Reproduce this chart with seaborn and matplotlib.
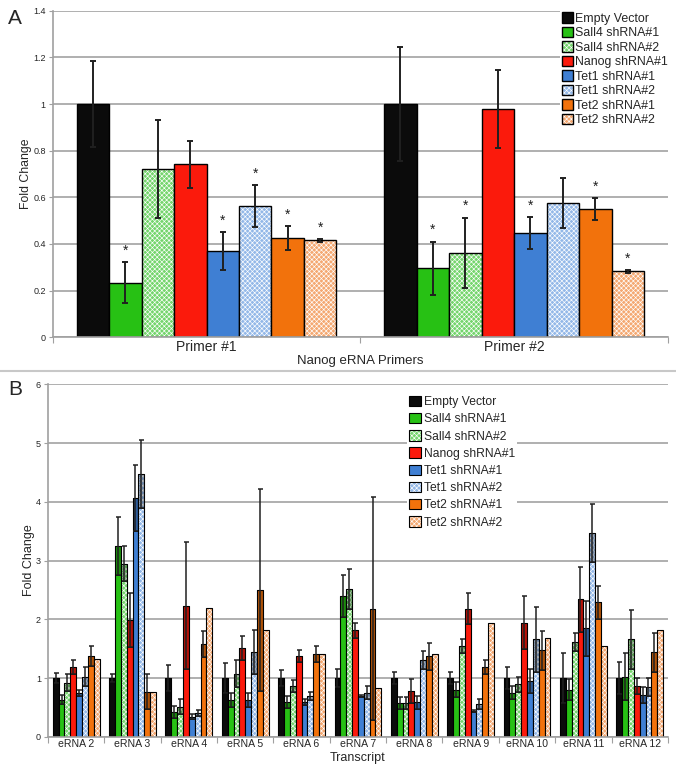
import numpy as np
import pandas as pd
import seaborn as sns
import matplotlib.pyplot as plt
import matplotlib.colors as mcolors
from matplotlib.lines import Line2D
from matplotlib.ticker import FuncFormatter

conditions = ['Empty Vector', 'Sall4 shRNA#1', 'Sall4 shRNA#2', 'Nanog shRNA#1',
              'Tet1 shRNA#1', 'Tet1 shRNA#2', 'Tet2 shRNA#1', 'Tet2 shRNA#2']
colors = ['#0b0b0b', '#27c114', '#74d56c', '#fb1a0c', '#3f7fd3', '#93b8e8', '#f2720c', '#f4a871']
hatched = [False, False, True, False, False, True, False, True]

# panel A
primers = ['Primer #1', 'Primer #2']
primer_mean = [[1.0, 1.0], [0.234, 0.295], [0.723, 0.362], [0.742, 0.978],
               [0.370, 0.447], [0.562, 0.576], [0.425, 0.549], [0.415, 0.282]]
primer_err = [[0.185, 0.245], [0.088, 0.115], [0.21, 0.15], [0.10, 0.168],
              [0.08, 0.068], [0.09, 0.107], [0.05, 0.048], [0.006, 0.006]]
primer_star = [[0, 0], [1, 1], [0, 1], [0, 0], [1, 1], [1, 0], [1, 1], [1, 1]]

# panel B
transcripts = ['eRNA 2', 'eRNA 3', 'eRNA 4', 'eRNA 5', 'eRNA 6', 'eRNA 7',
               'eRNA 8', 'eRNA 9', 'eRNA 10', 'eRNA 11', 'eRNA 12']
erna_mean = [
    [1.0, 1.0, 1.0, 1.0, 1.0, 1.0, 1.0, 1.0, 1.0, 1.0, 1.0],
    [0.63, 3.25, 0.42, 0.63, 0.59, 2.40, 0.58, 0.80, 0.75, 0.80, 1.02],
    [0.92, 2.95, 0.51, 1.07, 0.87, 2.51, 0.58, 1.54, 0.89, 1.61, 1.66],
    [1.19, 1.99, 2.23, 1.51, 1.37, 1.81, 0.78, 2.18, 1.94, 2.34, 0.86],
    [0.75, 4.07, 0.34, 0.63, 0.59, 0.69, 0.59, 0.44, 0.95, 1.85, 0.71],
    [1.02, 4.47, 0.41, 1.44, 0.69, 0.75, 1.31, 0.56, 1.66, 3.47, 0.85],
    [1.37, 0.77, 1.58, 2.50, 1.41, 2.18, 1.37, 1.19, 1.47, 2.29, 1.44],
    [1.32, 0.77, 2.19, 1.82, 1.41, 0.83, 1.41, 1.94, 1.69, 1.55, 1.82],
]
erna_err = [
    [0.08, 0.07, 0.22, 0.25, 0.13, 0.15, 0.10, 0.10, 0.19, 0.42, 0.28],
    [0.08, 0.50, 0.10, 0.12, 0.10, 0.36, 0.10, 0.13, 0.11, 0.18, 0.40],
    [0.14, 0.30, 0.13, 0.23, 0.10, 0.34, 0.10, 0.12, 0.12, 0.15, 0.50],
    [0.12, 0.46, 1.08, 0.20, 0.10, 0.12, 0.20, 0.26, 0.45, 0.55, 0.14],
    [0.05, 0.56, 0.04, 0.12, 0.05, 0.02, 0.11, 0.02, 0.20, 0.47, 0.13],
    [0.16, 0.58, 0.05, 0.38, 0.07, 0.11, 0.15, 0.08, 0.55, 0.50, 0.15],
    [0.17, 0.30, 0.22, 1.72, 0.14, 1.90, 0.23, 0.12, 0.33, 0.28, 0.33],
    [0.0, 0.0, 0.0, 0.0, 0.0, 0.0, 0.0, 0.0, 0.0, 0.0, 0.0],
]

sns.set_theme(style='white')
plt.rcParams['font.family'] = ['Liberation Sans', 'DejaVu Sans']
plt.rcParams['hatch.linewidth'] = 0.45
white = mcolors.to_rgba('white')


def draw_bars(ax, cats, means, errs, width, lw, capsize, elw, shade=False, stars=None, star_gap=0.02):
    rows = []
    for c, m in zip(conditions, means):
        for cat, v in zip(cats, m):
            rows.append({'group': cat, 'condition': c, 'value': v})
    df = pd.DataFrame(rows)

    sns.barplot(data=df, x='group', y='value', hue='condition', order=cats,
                hue_order=conditions, palette=colors, saturation=1, errorbar=None,
                width=width, edgecolor='black', linewidth=lw, legend=False, ax=ax)

    bar_conts = list(ax.containers)
    handles = []
    for i, cont in enumerate(bar_conts):
        bars = sorted(cont.patches, key=lambda p: p.get_x())
        xs = np.array([p.get_x() + p.get_width() / 2 for p in bars])
        bw = bars[0].get_width()
        m = np.array(means[i])
        e = np.array(errs[i])
        if hatched[i]:
            for p in bars:
                p.set_hatch('xxxxxxx')
                p._hatch_color = white
        handles.append(bars[0])
        if shade:
            ax.bar(xs, e, bottom=m - e, width=bw, color=(0, 0, 0, 0.28),
                   edgecolor='black', linewidth=0.6, zorder=2)
        has_err = e > 0
        ax.errorbar(xs[has_err], m[has_err], yerr=e[has_err], fmt='none',
                    ecolor='#202020', elinewidth=elw, capsize=capsize,
                    capthick=elw, zorder=3)
        if stars is not None:
            for x, v, s, st in zip(xs, m, e, stars[i]):
                if st:
                    ax.text(x, v + s + star_gap, '*', ha='center', va='bottom',
                            fontsize=10, color='#202020')

    ax.set_xticks(np.arange(len(cats) + 1) - 0.5, minor=True)
    ax.tick_params(axis='x', which='major', length=0, pad=2)
    ax.tick_params(axis='x', which='minor', length=4, width=0.8, color='#a0a0a0', bottom=True)
    ax.tick_params(axis='y', length=3, width=0.8, color='#a0a0a0', left=True, pad=2)
    ax.set_xlim(-0.5, len(cats) - 0.5)
    ax.yaxis.grid(True, color='#a9a9a9', linewidth=1.3)
    ax.set_axisbelow(True)
    for s in ['top', 'right']:
        ax.spines[s].set_visible(False)
    for s in ['left', 'bottom']:
        ax.spines[s].set_color('#a0a0a0')
        ax.spines[s].set_linewidth(1.2)
    ax.yaxis.set_major_formatter(FuncFormatter(lambda v, p: f'{v:g}'))
    return handles


fig = plt.figure(figsize=(6.76, 7.75), dpi=100)

# Panel A
ax1 = fig.add_axes([0.078, 0.565, 0.910, 0.421])
h1 = draw_bars(ax1, primers, primer_mean, primer_err, width=0.845, lw=1.0,
               capsize=2.5, elw=1.4, stars=primer_star)
ax1.set_ylim(0, 1.4)
ax1.set_yticks(np.arange(0, 1.41, 0.2))
ax1.tick_params(axis='y', labelsize=6.5)
ax1.tick_params(axis='x', labelsize=10)
ax1.set_xlabel('Nanog eRNA Primers', fontsize=9.5, labelpad=1)
ax1.set_ylabel('Fold Change', fontsize=8.8, labelpad=0.5)
leg1 = ax1.legend(h1, conditions, loc='upper right', bbox_to_anchor=(1.014, 1.022),
                  fontsize=8.9, handlelength=0.9, handleheight=0.9,
                  handletextpad=0.12, labelspacing=0.17, borderpad=0.2,
                  frameon=True, fancybox=False, framealpha=1, edgecolor='none')
leg1.get_frame().set_facecolor('white')

# Panel B
ax2 = fig.add_axes([0.071, 0.0494, 0.917, 0.4545])
h2 = draw_bars(ax2, transcripts, erna_mean, erna_err, width=0.83, lw=0.8,
               capsize=1.8, elw=1.1, shade=True)
ax2.set_ylim(0, 6)
ax2.set_yticks(range(0, 7))
ax2.tick_params(axis='y', labelsize=6.5)
ax2.tick_params(axis='x', labelsize=7.6)
ax2.set_xlabel('Transcript', fontsize=9, labelpad=2)
ax2.set_ylabel('Fold Change', fontsize=9, labelpad=0.5)
leg2 = ax2.legend(h2, conditions, loc='upper left', bbox_to_anchor=(0.57, 0.99),
                  fontsize=8.7, handlelength=0.95, handleheight=0.95,
                  handletextpad=0.3, labelspacing=0.4, borderpad=0.15,
                  frameon=True, fancybox=False, framealpha=1, edgecolor='none')
leg2.get_frame().set_facecolor('white')

fig.add_artist(Line2D([0, 1], [0.521, 0.521], color='#c8c8c8', linewidth=1.5))
fig.text(0.012, 0.976, 'A', fontsize=15, va='center', ha='left')
fig.text(0.012, 0.497, 'B', fontsize=15, va='center', ha='left')

fig.savefig('out.png', dpi=100)
